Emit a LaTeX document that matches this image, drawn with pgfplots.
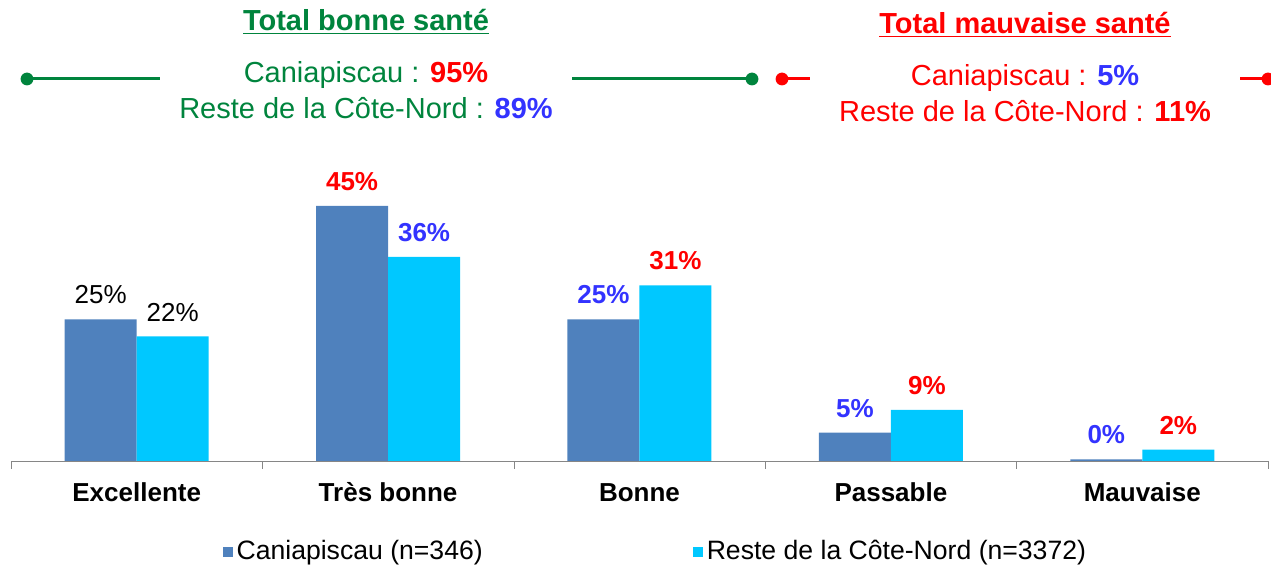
\documentclass[border=0pt]{standalone}
\usepackage{fontspec}
\setmainfont{Liberation Sans}
\usepackage{pgfplots}
\pgfplotsset{compat=1.18}
\definecolor{barblue}{RGB}{79,129,189}
\definecolor{barcyan}{RGB}{0,200,255}
\definecolor{txtgreen}{RGB}{0,132,61}
\definecolor{txtblue}{RGB}{51,51,255}
\definecolor{txtred}{RGB}{255,0,0}
\definecolor{axgray}{RGB}{134,134,134}

\begin{document}
\fontsize{13}{15}\selectfont
\begin{tikzpicture}
\path[use as bounding box] (0,0) rectangle (635.5pt,283pt);
\begin{axis}[
  at={(5.5pt,52.5pt)}, anchor=south west,
  scale only axis, width=628.5pt, height=141.7pt,
  clip=false,
  ybar=0pt, bar width=36pt,
  xmin=-0.5, xmax=4.5, ymin=0, ymax=50,
  axis x line=bottom, axis y line=none,
  x axis line style={axgray,-},
  xtick={0,...,4},
  xticklabels={Excellente,Très bonne,Bonne,Passable,Mauvaise},
  major tick length=0pt,
  minor xtick={-0.5,0.5,1.5,2.5,3.5,4.5},
  minor tick length=4pt, tick align=outside,
  tick style={axgray},
  xticklabel style={font=\fontsize{13}{15}\selectfont\bfseries, anchor=base, yshift=-20.5pt},
  ytick=\empty,
  legend columns=2,
  legend style={at={(0.168,-0.321)}, anchor=west, draw=none, inner sep=0pt,
    font=\fontsize{13.3}{15}\selectfont,
    /tikz/every even column/.append style={column sep=103pt}},
  legend image code/.code={\fill[#1] (0pt,-2.5pt) rectangle (5pt,2.5pt);},
]
\addplot[fill=barblue, draw=none] coordinates {(0,25) (1,45) (2,25) (3,5) (4,0.3)};
\addlegendentry{Caniapiscau (n=346)}
\addplot[fill=barcyan, draw=none] coordinates {(0,22) (1,36) (2,31) (3,9) (4,2)};
\addlegendentry{Reste de la Côte-Nord (n=3372)}

% etiquettes des barres
\node[anchor=south, xshift=-18pt, yshift=3pt, black] at (axis cs:0,25) {25\%};
\node[anchor=south, xshift=18pt, yshift=3pt, black] at (axis cs:0,22) {22\%};
\node[anchor=south, xshift=-18pt, yshift=3pt, txtred, font=\bfseries] at (axis cs:1,45) {45\%};
\node[anchor=south, xshift=18pt, yshift=3pt, txtblue, font=\bfseries] at (axis cs:1,36) {36\%};
\node[anchor=south, xshift=-18pt, yshift=3pt, txtblue, font=\bfseries] at (axis cs:2,25) {25\%};
\node[anchor=south, xshift=18pt, yshift=3pt, txtred, font=\bfseries] at (axis cs:2,31) {31\%};
\node[anchor=south, xshift=-18pt, yshift=3pt, txtblue, font=\bfseries] at (axis cs:3,5) {5\%};
\node[anchor=south, xshift=18pt, yshift=3pt, txtred, font=\bfseries] at (axis cs:3,9) {9\%};
\node[anchor=south, xshift=-18pt, yshift=3pt, txtblue, font=\bfseries] at (axis cs:4,0.3) {0\%};
\node[anchor=south, xshift=18pt, yshift=3pt, txtred, font=\bfseries] at (axis cs:4,2) {2\%};
\end{axis}

% encadres du haut
\node[txtgreen, font=\fontsize{14.5}{17}\selectfont\bfseries] at (183pt,272pt) {\underline{Total bonne santé}};
\node[txtgreen, font=\fontsize{14.5}{17}\selectfont] at (183pt,245.5pt) {Caniapiscau : \textcolor{txtred}{\textbf{95\%}}};
\node[txtgreen, font=\fontsize{14.5}{17}\selectfont] at (183pt,229pt) {Reste de la Côte-Nord : \textcolor{txtblue}{\textbf{89\%}}};
\draw[txtgreen, line width=1.5pt] (13.5pt,243.5pt) -- (80pt,243.5pt);
\draw[txtgreen, line width=1.5pt] (286pt,243.5pt) -- (376pt,243.5pt);
\fill[txtgreen] (13.5pt,243.5pt) circle (3.2pt);
\fill[txtgreen] (376pt,243.5pt) circle (3.2pt);

\node[txtred, font=\fontsize{14.5}{17}\selectfont\bfseries] at (512.5pt,270.5pt) {\underline{Total mauvaise santé}};
\node[txtred, font=\fontsize{14.5}{17}\selectfont] at (512.5pt,244pt) {Caniapiscau : \textcolor{txtblue}{\textbf{5\%}}};
\node[txtred, font=\fontsize{14.5}{17}\selectfont] at (512.5pt,227.5pt) {Reste de la Côte-Nord : \textbf{11\%}};
\draw[txtred, line width=1.5pt] (391pt,243.5pt) -- (405pt,243.5pt);
\draw[txtred, line width=1.5pt] (620pt,243.5pt) -- (634pt,243.5pt);
\fill[txtred] (391pt,243.5pt) circle (3.2pt);
\fill[txtred] (634pt,243.5pt) circle (3.2pt);
\end{tikzpicture}
\end{document}
